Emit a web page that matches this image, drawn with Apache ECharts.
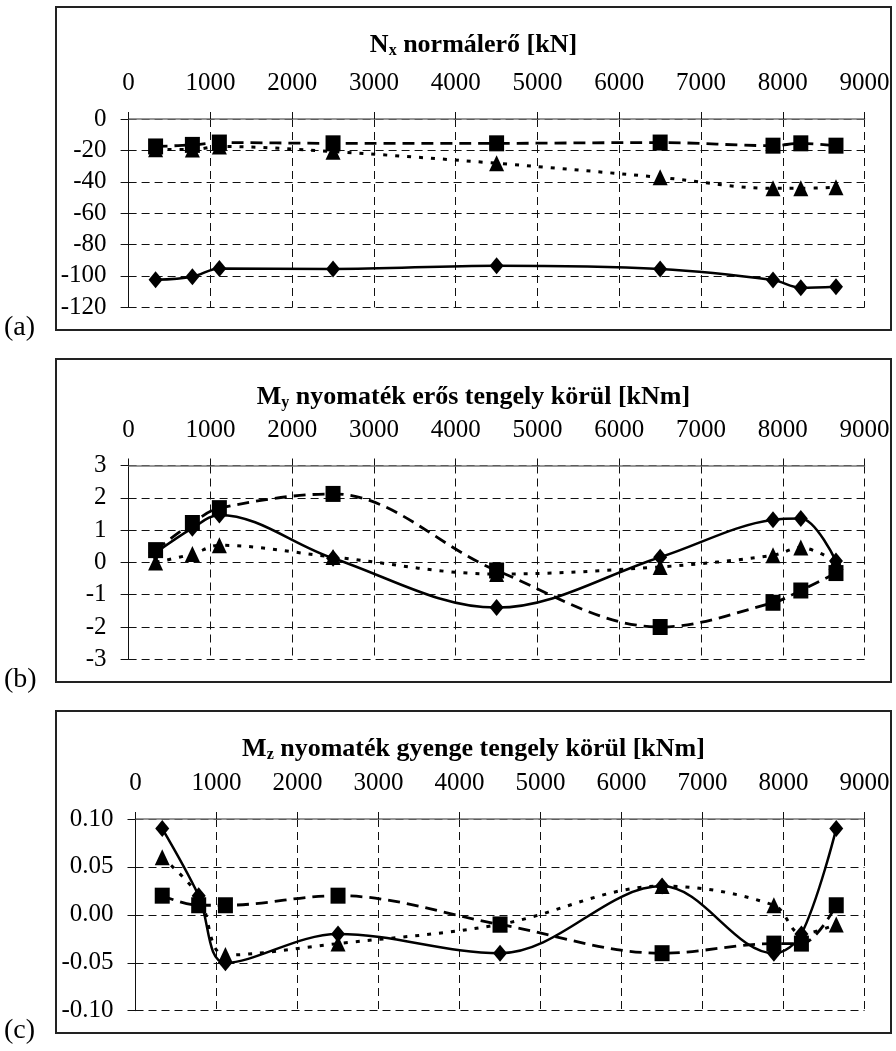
<!DOCTYPE html>
<html>
<head>
<meta charset="utf-8">
<script src="https://cdn.jsdelivr.net/npm/echarts@6/dist/echarts.min.js"></script>
<style>
  html, body { margin: 0; padding: 0; background: #fff; }
  #chart { width: 896px; height: 1051px; }
</style>
</head>
<body>
<div id="chart"></div>
<script>
// mérési pontok helye (x, mm)
const xPos = [330, 780, 1110, 2500, 4500, 6500, 7880, 8220, 8650];
const xTicks = [0, 9000, 1000];

// (a) Nx normálerő [kN]
const nxDiamond = [-102.5, -100.5, -95.2, -95.6, -93.5, -95.6, -102.6, -107.5, -106.9];
const nxSquare = [-17.5, -16.5, -15, -15.5, -15.5, -15, -17, -15.5, -17];
const nxTriangle = [-19.3, -19.5, -17.5, -20.8, -28.2, -37.2, -44.2, -44.2, -43.5];

// (b) My nyomaték [kNm]
const myDiamond = [0.3, 1.06, 1.47, 0.13, -1.4, 0.16, 1.32, 1.36, 0.04];
const mySquare = [0.38, 1.22, 1.68, 2.12, -0.25, -2.0, -1.25, -0.87, -0.33];
const myTriangle = [0.0, 0.26, 0.53, 0.17, -0.36, -0.14, 0.22, 0.46, 0.02];

// (c) Mz nyomaték [kNm]
const mzDiamond = [0.09, 0.02, -0.05, -0.02, -0.04, 0.03, -0.04, -0.02, 0.09];
const mzSquare = [0.02, 0.01, 0.01, 0.02, -0.01, -0.04, -0.03, -0.03, 0.01];
const mzTriangle = [0.06, 0.02, -0.042, -0.03, -0.01, 0.03, 0.01, -0.02, -0.01];

// y tengely skálák: [min, max, lépés]
const yRanges = [[-120, 0, 20], [-3, 3, 1], [-0.1, 0.1, 0.05]];
const titles = [
  ['N', 'x', ' normálerő [kN]'],
  ['M', 'y', ' nyomaték erős tengely körül [kNm]'],
  ['M', 'z', ' nyomaték gyenge tengely körül [kNm]']
];
const panelLabels = ['(a)', '(b)', '(c)'];

const FONT = '"Liberation Serif", "Times New Roman", serif';

// elrendezés (px)
const boxes = [
  { x: 56, y: 7, w: 835, h: 323 },
  { x: 56, y: 359, w: 835, h: 323 },
  { x: 56, y: 711, w: 835, h: 322 }
];
const grids = [
  { left: 128.6, right: 31.4, top: 119, height: 188.3 },
  { left: 128.6, right: 31.4, top: 465.5, height: 193.8 },
  { left: 135.5, right: 31.4, top: 819, height: 191.7 }
];

const chart = echarts.init(document.getElementById('chart'));

const dashGrid = { type: [8, 5], color: '#111', width: 1 };

const xAxes = grids.map((g, i) => ({
  type: 'value',
  gridIndex: i,
  position: 'top',
  min: xTicks[0],
  max: xTicks[1],
  interval: xTicks[2],
  axisLine: { show: true, onZero: false, lineStyle: { color: '#777', width: 1.5 } },
  axisTick: { show: true, length: 7, lineStyle: { color: '#111' } },
  axisLabel: { fontFamily: FONT, fontSize: 25, color: '#000', margin: 23, formatter: (v) => String(v) },
  splitLine: { show: true, lineStyle: dashGrid }
}));

const yAxes = grids.map((g, i) => ({
  type: 'value',
  gridIndex: i,
  min: yRanges[i][0],
  max: yRanges[i][1],
  interval: yRanges[i][2],
  axisLine: { show: true, onZero: false, lineStyle: { color: '#111', width: 1 } },
  axisTick: { show: true, length: 8, lineStyle: { color: '#111' } },
  axisLabel: {
    fontFamily: FONT, fontSize: 25, color: '#000', margin: 22,
    formatter: i === 2 ? (v) => v.toFixed(2) : (v) => String(v)
  },
  splitLine: { show: true, lineStyle: dashGrid }
}));

const pair = (arr) => xPos.map((x, k) => [x, arr[k]]);

const styles = {
  diamond: { symbol: 'diamond', symbolSize: [14, 17], line: { type: 'solid', width: 2.5 } },
  square: { symbol: 'rect', symbolSize: [15, 16], line: { type: [12, 7], width: 2.8 } },
  triangle: { symbol: 'triangle', symbolSize: [15, 16], line: { type: [4, 8], width: 3 } }
};

const panelData = [
  { diamond: nxDiamond, square: nxSquare, triangle: nxTriangle },
  { diamond: myDiamond, square: mySquare, triangle: myTriangle },
  { diamond: mzDiamond, square: mzSquare, triangle: mzTriangle }
];

const series = [];
panelData.forEach((pd, i) => {
  ['triangle', 'square', 'diamond'].forEach((key) => {
    const st = styles[key];
    series.push({
      type: 'line',
      xAxisIndex: i,
      yAxisIndex: i,
      data: pair(pd[key]),
      smooth: 0.35,
      symbol: st.symbol,
      symbolSize: st.symbolSize,
      showAllSymbol: true,
      itemStyle: { color: '#000', borderWidth: 0 },
      lineStyle: { color: '#000', width: st.line.width, type: st.line.type },
      animation: false,
      z: 3
    });
  });
});

const graphics = [];
boxes.forEach((b, i) => {
  graphics.push({
    type: 'rect',
    shape: { x: b.x, y: b.y, width: b.w, height: b.h },
    style: { fill: 'none', stroke: '#222', lineWidth: 2 },
    z: 0
  });
  const t = titles[i];
  graphics.push({
    type: 'text',
    x: b.x + b.w / 2,
    y: b.y + 38,
    style: {
      text: '{m|' + t[0] + '}{s|' + t[1] + '}{m|' + t[2] + '}',
      align: 'center',
      verticalAlign: 'middle',
      rich: {
        m: { fontFamily: FONT, fontSize: 26, fontWeight: 'bold', fill: '#000', lineHeight: 30 },
        s: { fontFamily: FONT, fontSize: 16, fontWeight: 'bold', fill: '#000', lineHeight: 30, padding: [12, 0, 0, 0] }
      }
    }
  });
  graphics.push({
    type: 'text',
    x: 4,
    y: b.y + b.h - 2,
    style: {
      text: panelLabels[i],
      font: '28px ' + FONT,
      fill: '#000',
      verticalAlign: 'middle'
    }
  });
});

chart.setOption({
  backgroundColor: '#fff',
  animation: false,
  grid: grids.map((g) => Object.assign({ containLabel: false }, g)),
  xAxis: xAxes,
  yAxis: yAxes,
  series: series,
  graphic: graphics
});
</script>
</body>
</html>
